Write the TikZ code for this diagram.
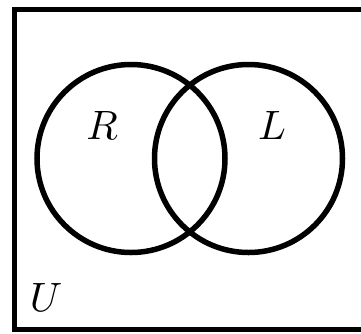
\documentclass[tikz,border=0pt]{standalone}
\usepackage{tikz}
\usetikzlibrary{positioning}

\newcommand{\biglbl}[1]{\scalebox{4.1}{$#1$}}

\begin{document}
\begin{tikzpicture}[
    x=1pt, y=-1pt,
    setcirc/.style={
      circle, draw=black, line width=5.5pt, minimum size=188pt, inner sep=0pt
    },
    setlbl/.style={inner sep=0pt}
  ]
    \useasboundingbox[fill=white] (0,0) rectangle (361,333);
    \draw[line width=5.5pt] (380,9.5) -- (14.5,9.5) -- (14.5,329.5) -- (380,329.5);

    \node[setcirc] (setR) at (131,158.5) {};
    \node[setcirc] (setL) at (248.5,158.5) {};

    \node[setlbl] (lblR) at (102,125) {\biglbl{R}};
    \node[setlbl] (lblL) at (272,125) {\biglbl{L}};
    \node[setlbl] (lblU) at (46,297) {\biglbl{U}};
  \end{tikzpicture}
\end{document}
